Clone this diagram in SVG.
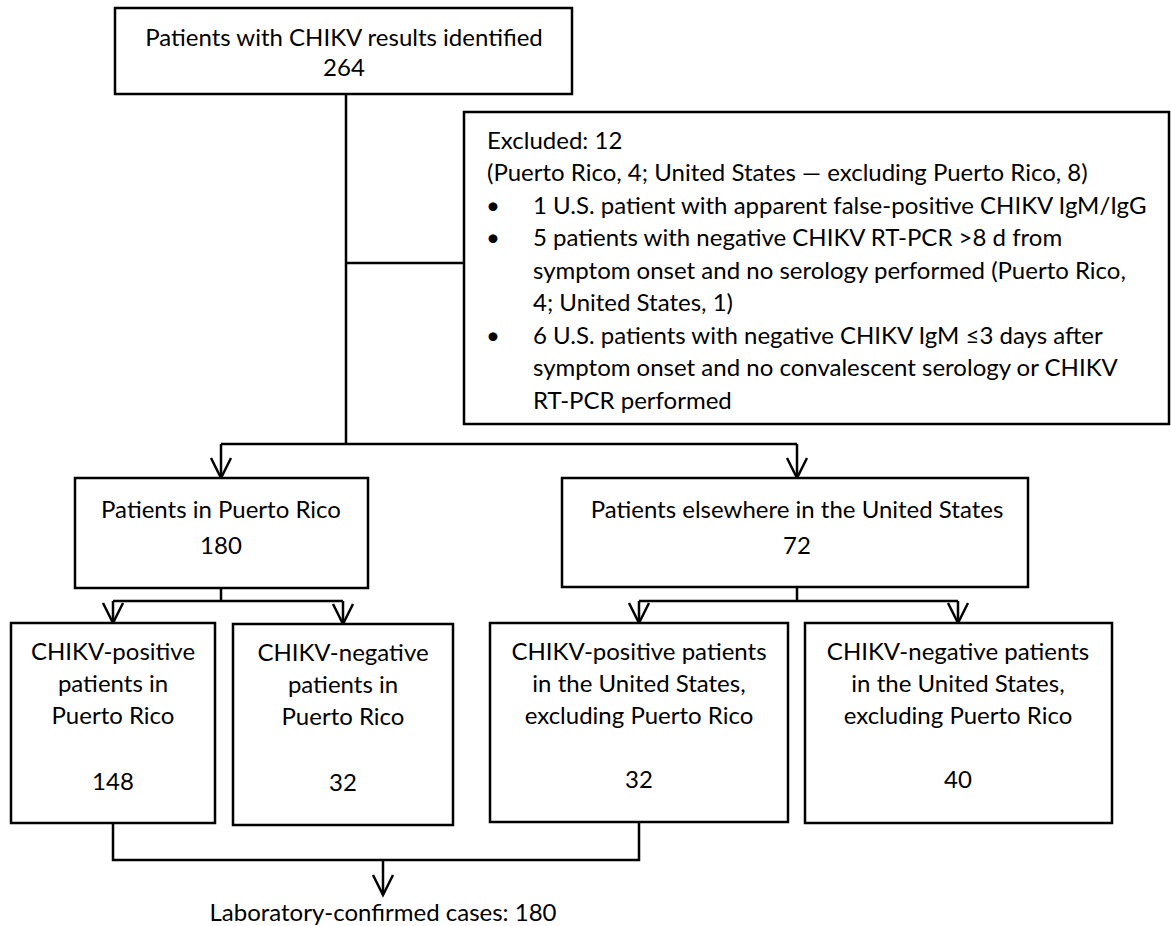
<svg xmlns="http://www.w3.org/2000/svg" width="1171" height="926" viewBox="0 0 1171 926">
<style>
  .box{fill:#fff;stroke:#000;stroke-width:2.5}
  .t{font-family:Lato,"Liberation Sans",sans-serif;font-size:24px;fill:#000}
  .c{text-anchor:middle}
  .ln{fill:none;stroke:#000;stroke-width:2.5}
</style>
<defs>
  <marker id="arr" markerUnits="userSpaceOnUse" markerWidth="24" markerHeight="24" viewBox="-22 -12 24 24" refX="0" refY="0" orient="auto" overflow="visible">
    <path d="M-20,-10 L0,0 L-20,10" fill="none" stroke="#000" stroke-width="2.5"/>
  </marker>
</defs>
<rect width="1171" height="926" fill="#fff"/>
<g id="connectors">
  <path class="ln" d="M346,94 V444"/>
  <path class="ln" d="M346,263 H464"/>
  <path class="ln" d="M221,444 H797"/>
  <path class="ln" d="M221,444 V478" marker-end="url(#arr)"/>
  <path class="ln" d="M797,444 V478" marker-end="url(#arr)"/>
  <path class="ln" d="M221,588 V601 M113,601 H343"/>
  <path class="ln" d="M113,601 V623" marker-end="url(#arr)"/>
  <path class="ln" d="M343,601 V624" marker-end="url(#arr)"/>
  <path class="ln" d="M797,587 V601 M639,601 H958"/>
  <path class="ln" d="M639,601 V623" marker-end="url(#arr)"/>
  <path class="ln" d="M958,601 V623" marker-end="url(#arr)"/>
  <path class="ln" d="M113,823 V860 H639 V822"/>
  <path class="ln" d="M383,860 V895" marker-end="url(#arr)"/>
</g>
<g id="n-identified">
  <rect class="box" x="115" y="8" width="457" height="86"/>
  <text class="t c" x="344" y="46">Patients with CHIKV results identified</text>
  <text class="t c" x="344" y="76">264</text>
</g>
<g id="n-excluded">
  <rect class="box" x="464" y="112" width="705" height="312"/>
  <text class="t" x="487" y="149">Excluded: 12</text>
  <text class="t" x="487" y="181">(Puerto Rico, 4; United States — excluding Puerto Rico, 8)</text>
  <text class="t" x="486" y="214">•</text>
  <text class="t" x="533" y="214">1 U.S. patient with apparent false-positive CHIKV IgM/IgG</text>
  <text class="t" x="486" y="246">•</text>
  <text class="t" x="533" y="246">5 patients with negative CHIKV RT-PCR &gt;8 d from</text>
  <text class="t" x="533" y="279">symptom onset and no serology performed (Puerto Rico,</text>
  <text class="t" x="533" y="311">4; United States, 1)</text>
  <text class="t" x="486" y="344">•</text>
  <text class="t" x="533" y="344">6 U.S. patients with negative CHIKV IgM ≤3 days after</text>
  <text class="t" x="533" y="376">symptom onset and no convalescent serology or CHIKV</text>
  <text class="t" x="533" y="409">RT-PCR performed</text>
</g>
<g id="n-pr">
  <rect class="box" x="75" y="478" width="293" height="110"/>
  <text class="t c" x="221" y="518">Patients in Puerto Rico</text>
  <text class="t c" x="221" y="554">180</text>
</g>
<g id="n-us">
  <rect class="box" x="562" y="478" width="466" height="109"/>
  <text class="t c" x="797" y="518">Patients elsewhere in the United States</text>
  <text class="t c" x="797" y="554">72</text>
</g>
<g id="n-pr-pos">
  <rect class="box" x="11" y="623" width="204" height="200"/>
  <text class="t c" x="113" y="660">CHIKV-positive</text>
  <text class="t c" x="113" y="692">patients in</text>
  <text class="t c" x="113" y="724">Puerto Rico</text>
  <text class="t c" x="113" y="790">148</text>
</g>
<g id="n-pr-neg">
  <rect class="box" x="233" y="624" width="220" height="201"/>
  <text class="t c" x="343" y="661">CHIKV-negative</text>
  <text class="t c" x="343" y="693">patients in</text>
  <text class="t c" x="343" y="725">Puerto Rico</text>
  <text class="t c" x="343" y="791">32</text>
</g>
<g id="n-us-pos">
  <rect class="box" x="490" y="623" width="298" height="199"/>
  <text class="t c" x="639" y="660">CHIKV-positive patients</text>
  <text class="t c" x="639" y="692">in the United States,</text>
  <text class="t c" x="639" y="724">excluding Puerto Rico</text>
  <text class="t c" x="639" y="788">32</text>
</g>
<g id="n-us-neg">
  <rect class="box" x="805" y="623" width="307" height="200"/>
  <text class="t c" x="958" y="660">CHIKV-negative patients</text>
  <text class="t c" x="958" y="692">in the United States,</text>
  <text class="t c" x="958" y="724">excluding Puerto Rico</text>
  <text class="t c" x="958" y="788">40</text>
</g>
<g id="n-confirmed">
  <text class="t c" x="383" y="921">Laboratory-confirmed cases: 180</text>
</g>
</svg>
